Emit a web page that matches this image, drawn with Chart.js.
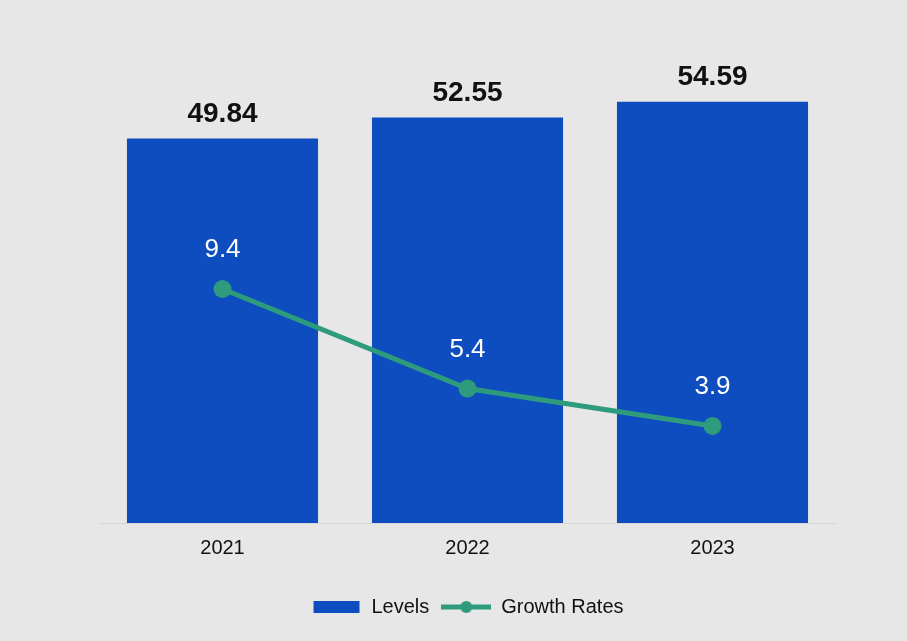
<!DOCTYPE html>
<html lang="en">
<head>
    <meta charset="UTF-8">
    <title>Levels and Growth Rates</title>
    <script src="https://cdn.jsdelivr.net/npm/chart.js"></script>
    <style>
        html, body {
            margin: 0;
            padding: 0;
            background: #e7e7e7;
        }
        .wrap {
            width: 907px;
            height: 641px;
            position: relative;
        }
    </style>
</head>
<body>
    <div class="wrap">
        <canvas id="chart"></canvas>
    </div>

    <script>
        // Данные
        const years = ['2021', '2022', '2023'];
        const levels = [49.84, 52.55, 54.59];
        const growthRates = [9.4, 5.4, 3.9];

        const barColor = '#0d4dc0';
        const lineColor = '#2e9c7c';
        const font = "'Liberation Sans', Arial, sans-serif";

        // Картинки для легенды
        function legendImage(kind) {
            const c = document.createElement('canvas');
            c.width = 50;
            c.height = 14;
            const g = c.getContext('2d');
            if (kind === 'bar') {
                g.fillStyle = barColor;
                g.fillRect(2, 1, 46, 12);
            } else {
                g.strokeStyle = lineColor;
                g.lineWidth = 5;
                g.beginPath();
                g.moveTo(0, 7);
                g.lineTo(50, 7);
                g.stroke();
                g.fillStyle = lineColor;
                g.beginPath();
                g.arc(25, 7, 6, 0, Math.PI * 2);
                g.fill();
            }
            return c;
        }

        // Подписи значений над столбцами и точками
        const valueLabels = {
            id: 'valueLabels',
            afterDatasetsDraw(chart) {
                const ctx = chart.ctx;
                ctx.save();
                ctx.textAlign = 'center';
                ctx.textBaseline = 'bottom';
                chart.getDatasetMeta(1).data.forEach((el, i) => {
                    ctx.fillStyle = '#111';
                    ctx.font = 'bold 28px ' + font;
                    ctx.fillText(levels[i].toFixed(2), el.x, el.y - 10);
                });
                chart.getDatasetMeta(0).data.forEach((el, i) => {
                    ctx.fillStyle = '#ffffff';
                    ctx.font = '26px ' + font;
                    ctx.fillText(String(growthRates[i]), el.x, el.y - 26);
                });
                ctx.restore();
            }
        };

        const ctx = document.getElementById('chart').getContext('2d');
        const chart = new Chart(ctx, {
            data: {
                labels: years,
                datasets: [
                    {
                        type: 'line',
                        label: 'Growth Rates',
                        data: growthRates,
                        yAxisID: 'y2',
                        borderColor: lineColor,
                        backgroundColor: lineColor,
                        borderWidth: 5,
                        pointRadius: 9,
                        pointHoverRadius: 9,
                        pointBackgroundColor: lineColor,
                        pointBorderWidth: 0,
                        tension: 0,
                        order: 0
                    },
                    {
                        type: 'bar',
                        label: 'Levels',
                        data: levels,
                        yAxisID: 'y',
                        backgroundColor: barColor,
                        categoryPercentage: 0.78,
                        barPercentage: 1,
                        order: 1
                    }
                ]
            },
            options: {
                responsive: true,
                maintainAspectRatio: false,
                animation: false,
                layout: {
                    padding: { top: 60, left: 100, right: 72, bottom: 14 }
                },
                plugins: {
                    tooltip: { enabled: false },
                    legend: {
                        position: 'bottom',
                        reverse: true,
                        labels: {
                            usePointStyle: true,
                            pointStyleWidth: 50,
                            boxHeight: 14,
                            padding: 12,
                            color: '#111',
                            font: { family: font, size: 20 },
                            generateLabels(chart) {
                                return chart.data.datasets.map((ds, i) => ({
                                    text: ds.label,
                                    datasetIndex: i,
                                    pointStyle: legendImage(ds.type),
                                    fillStyle: ds.backgroundColor,
                                    strokeStyle: ds.backgroundColor,
                                    lineWidth: 0,
                                    hidden: false,
                                    fontColor: '#111'
                                }));
                            }
                        }
                    }
                },
                scales: {
                    x: {
                        grid: { display: false, drawTicks: false },
                        border: { display: true, color: '#d6d6d6', width: 1 },
                        ticks: {
                            padding: 13,
                            color: '#111',
                            font: { family: font, size: 20 }
                        },
                        afterFit(scale) { scale.height = 62; }
                    },
                    y: {
                        display: false,
                        min: 0,
                        max: 60
                    },
                    y2: {
                        display: false,
                        min: 0,
                        max: 18.6
                    }
                }
            },
            plugins: [valueLabels]
        });
    </script>
</body>
</html>
